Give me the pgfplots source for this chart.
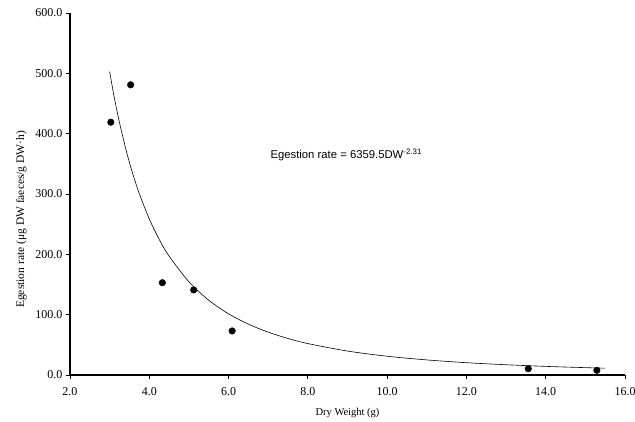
\documentclass[border=0pt]{standalone}
\usepackage{pgfplots}
\pgfplotsset{compat=1.18}
\usepackage{fontspec}
\setmainfont{Liberation Serif}
\newfontfamily\arialfont{Liberation Sans}
\begin{document}
\begin{tikzpicture}[x=1pt,y=1pt]
\path[use as bounding box] (-70,-46) rectangle (565,375);
\begin{axis}[
  at={(0,0)}, anchor=origin,
  scale only axis,
  width=555pt, height=362pt,
  xmin=2, xmax=16, ymin=0, ymax=600,
  axis lines*=left,
  axis line style={line width=1.2pt},
  tick align=outside,
  major tick length=4pt,
  tick style={black, line width=0.8pt},
  xtick={2,4,...,16}, ytick={0,100,...,600},
  /pgf/number format/.cd, fixed, fixed zerofill, precision=1, assume math mode=true,
  /pgfplots/.cd,
  ticklabel style={font=\fontsize{12}{14}\selectfont},
  xticklabel style={yshift=-5pt},
  xlabel={Dry Weight (g)},
  ylabel={Egestion rate (μg DW faeces/g DW·h)},
  xlabel style={font=\fontsize{10.5}{12}\selectfont, yshift=-6pt},
  ylabel style={font=\fontsize{11.5}{13}\selectfont, at={(ticklabel cs:0.43)}, yshift=2pt},
  clip=false,
]
\addplot[black, line width=0.6pt, smooth] coordinates {
(3.0,502.7)(3.1,465.9)(3.2,432.9)(3.25,417.8)(3.4,376.6)(3.5,352.1)(3.6,330.0)(3.75,300.2)
(4.0,258.6)(4.25,224.8)(4.5,197.0)(5.0,154.5)(5.5,123.9)(6.0,101.4)(6.5,84.3)(7.0,71.0)
(7.5,60.5)(8.0,52.1)(9.0,39.7)(10.0,31.1)(11.0,25.0)(12.0,20.4)(13.0,17.0)(14.0,14.3)
(15.0,12.2)(15.5,11.3)
};
\addplot[only marks, mark=*, mark size=3.3pt, black] coordinates {
(3.03,419)(3.53,481)(4.33,153)(5.12,141)(6.09,73)(13.56,10.4)(15.29,7.8)
};
\node[anchor=west, font=\arialfont\fontsize{11.3}{13}\selectfont] at (axis cs:6.97,365) {Egestion rate = 6359.5DW\textsuperscript{-2.31}};
\end{axis}
\end{tikzpicture}
\end{document}
